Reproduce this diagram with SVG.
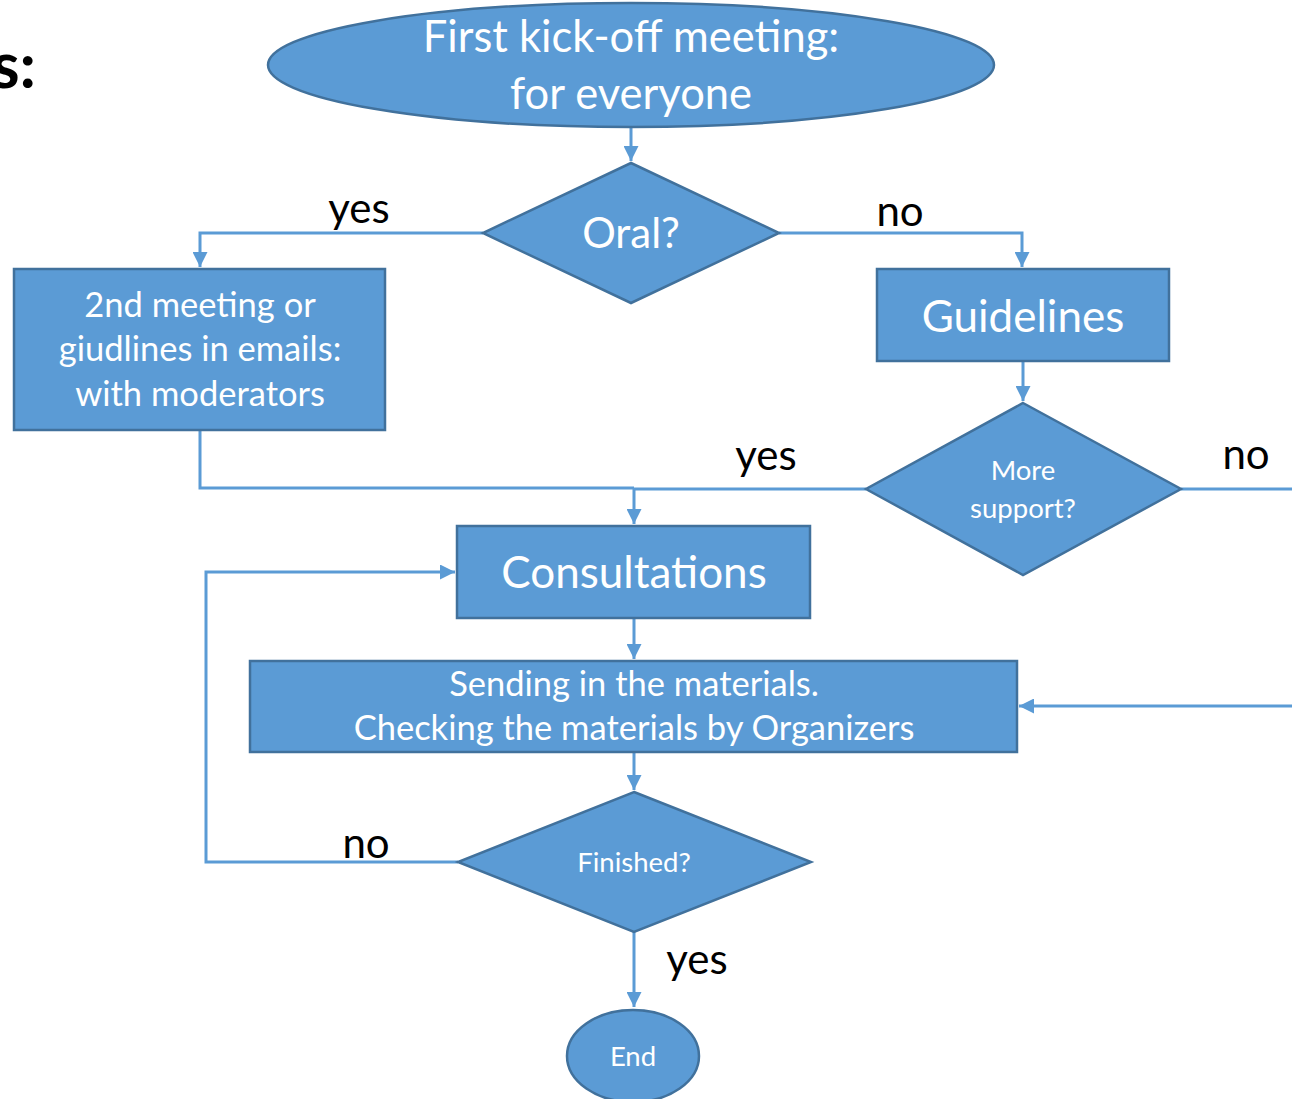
<svg xmlns="http://www.w3.org/2000/svg" width="1292" height="1099" viewBox="0 0 1292 1099">
<style>
.n{fill:#5B9BD5;stroke:#41719C;stroke-width:2.5}
.t{fill:#fff;font-family:Lato,"Open Sans",sans-serif;text-anchor:middle}
.c{fill:none;stroke:#5B9BD5;stroke-width:3}
.l{fill:#000;font-family:Lato,"Open Sans",sans-serif;font-size:42px;text-anchor:middle}
</style>
<defs>
<marker id="a" viewBox="0 0 10 10" refX="10" refY="5" markerWidth="5" markerHeight="5" orient="auto" markerUnits="strokeWidth">
<path d="M0,0 L10,5 L0,10 z" fill="#5B9BD5"/>
</marker>
</defs>
<rect width="1292" height="1099" fill="#fff"/>
<text x="36" y="88" font-family="Lato,'Open Sans',sans-serif" font-weight="bold" font-size="64" text-anchor="end" fill="#000">s:</text>
<g id="connectors">
<path class="c" d="M631,127 V161" marker-end="url(#a)"/>
<path class="c" d="M483,233 H200 V267" marker-end="url(#a)"/>
<path class="c" d="M779,233 H1022 V267" marker-end="url(#a)"/>
<path class="c" d="M1023,361 V401" marker-end="url(#a)"/>
<path class="c" d="M200,430 V488 H634"/>
<path class="c" d="M866,489 H634 V524" marker-end="url(#a)"/>
<path class="c" d="M1181,489 H1292"/>
<path class="c" d="M1292,706 H1019" marker-end="url(#a)"/>
<path class="c" d="M634,618 V659" marker-end="url(#a)"/>
<path class="c" d="M634,752 V790" marker-end="url(#a)"/>
<path class="c" d="M458,862 H206 V572 H455" marker-end="url(#a)"/>
<path class="c" d="M634,932 V1007" marker-end="url(#a)"/>
</g>
<g id="labels">
<text class="l" x="359" y="223">yes</text>
<text class="l" x="900" y="226">no</text>
<text class="l" x="766" y="470">yes</text>
<text class="l" x="1246" y="469">no</text>
<text class="l" x="366" y="858">no</text>
<text class="l" x="697" y="974">yes</text>
</g>
<g id="start">
<ellipse class="n" cx="631" cy="65" rx="363" ry="62"/>
<text class="t" x="631" y="52" font-size="43.5">First kick-off meeting:</text>
<text class="t" x="631" y="109" font-size="43.5">for everyone</text>
</g>
<g id="oral">
<polygon class="n" points="631,163 779,233 631,303 483,233"/>
<text class="t" x="631" y="248" font-size="42">Oral?</text>
</g>
<g id="meeting2">
<rect class="n" x="14" y="269" width="371" height="161"/>
<text class="t" x="200" y="317" font-size="34.5">2nd meeting or</text>
<text class="t" x="200" y="361" font-size="34.5">giudlines in emails:</text>
<text class="t" x="200" y="406" font-size="34.5">with moderators</text>
</g>
<g id="guidelines">
<rect class="n" x="877" y="269" width="292" height="92"/>
<text class="t" x="1023" y="332" font-size="44">Guidelines</text>
</g>
<g id="support">
<polygon class="n" points="1023,403 1181,489 1023,575 866,489"/>
<text class="t" x="1023" y="480" font-size="27.5">More</text>
<text class="t" x="1023" y="518" font-size="27.5">support?</text>
</g>
<g id="consultations">
<rect class="n" x="457" y="526" width="353" height="92"/>
<text class="t" x="634" y="588" font-size="44">Consultations</text>
</g>
<g id="sending">
<rect class="n" x="250" y="661" width="767" height="91"/>
<text class="t" x="634" y="696" font-size="34.5">Sending in the materials.</text>
<text class="t" x="634" y="740" font-size="34.5">Checking the materials by Organizers</text>
</g>
<g id="finished">
<polygon class="n" points="634,792 811,862 634,932 458,862"/>
<text class="t" x="634" y="872" font-size="27.5">Finished?</text>
</g>
<g id="end">
<ellipse class="n" cx="633" cy="1056" rx="66" ry="46"/>
<text class="t" x="633" y="1066" font-size="27.5">End</text>
</g>
</svg>
